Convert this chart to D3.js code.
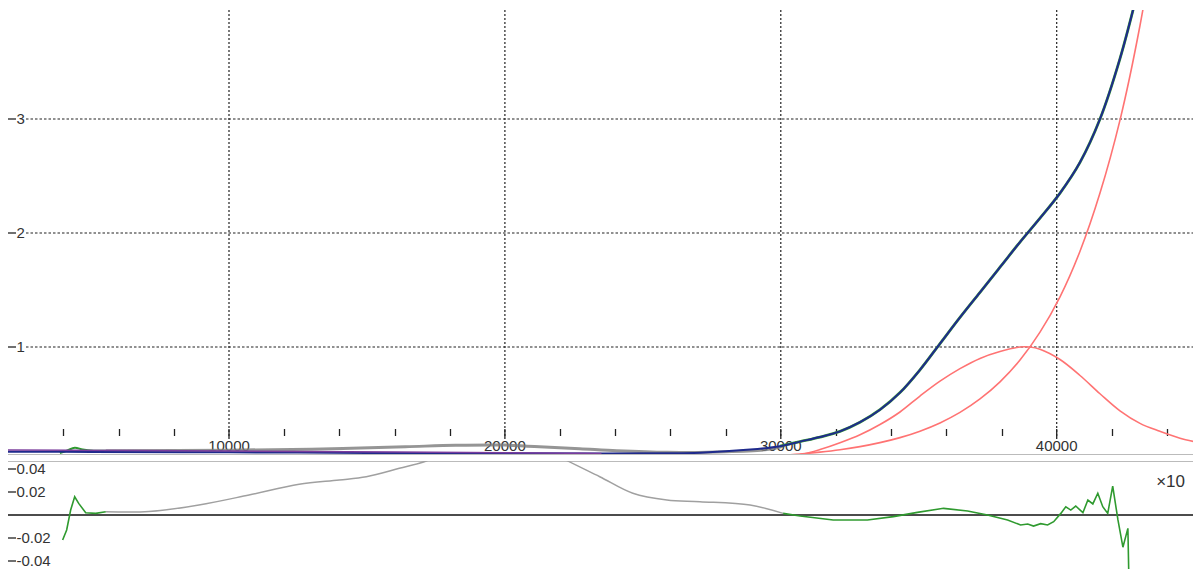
<!DOCTYPE html>
<html><head><meta charset="utf-8">
<script src="https://cdn.jsdelivr.net/npm/d3@7"></script>
<style>
body{margin:0;background:#fff}
svg{display:block}
text{font-family:"Liberation Sans",Arial,sans-serif;fill:#333}
</style>
</head><body>
<svg id="c" width="1193" height="569"></svg>
<script>
// ---------- data ----------
const xMajorTicks = [10000, 20000, 30000, 40000];
const xMinorTicks = [4000, 6000, 8000, 12000, 14000, 16000, 18000, 22000, 24000, 26000, 28000, 32000, 34000, 36000, 38000, 42000, 44000];
const yMainTicks = [1, 2, 3];
const yResTicks = [0.04, 0.02, -0.02, -0.04];
const resTickLabels = ["0.04", "0.02", "-0.02", "-0.04"];

// model sum (dark blue)
const modelSum = [[1990,0.082],[5000,0.08],[10000,0.076],[15000,0.071],[20000,0.067],[23440,0.066],[25870,0.067],[27070,0.072],[28890,0.1],
  [29971,0.13],[30696,0.17],[31421,0.21],[32146,0.26],[32871,0.34],[33595,0.45],[34320,0.60],[35045,0.80],[35770,1.03],[36495,1.26],
  [37220,1.48],[37945,1.70],[38670,1.92],[39395,2.13],[40120,2.35],[40845,2.62],[41569,3.0],[42294,3.53],[43019,4.2]];
// model outside active range (purple)
const modelOuter = [[1990,0.096],[10000,0.088],[16000,0.078],[20000,0.072],[22300,0.068],[23500,0.066]];
// components (red)
const peakComp = [[30080,0.04],[30805,0.06],[31421,0.10],[32146,0.16],[32871,0.23],[33595,0.32],[34320,0.43],[35045,0.57],[35770,0.70],
  [36495,0.81],[37220,0.90],[37945,0.96],[38670,1.0],[39032,1.0],[39395,0.98],[40120,0.89],[40845,0.75],[41569,0.59],[42294,0.44],
  [43019,0.33],[43744,0.26],[44469,0.2],[45194,0.16]];
const riseComp = [[29971,0.048],[30696,0.061],[31421,0.078],[32146,0.099],[32871,0.126],[33595,0.161],[34320,0.205],[35045,0.262],
  [35770,0.334],[36495,0.426],[37220,0.544],[37945,0.694],[38670,0.885],[39395,1.13],[40120,1.44],[40845,1.84],[41569,2.35],
  [42294,2.99],[43019,3.82],[43744,4.87]];
// data points
const dataActiveLeft = [[3870,0.07],[4120,0.09],[4410,0.117],[4700,0.1],[5100,0.09],[5530,0.09]];
const dataInactive = [[5530,0.09],[10000,0.095],[13370,0.105],[16390,0.125],[18220,0.138],[20000,0.14],[20810,0.13],[21620,0.12],[22710,0.108],[24060,0.09],[25870,0.076],[27690,0.08],[29500,0.1],[30080,0.13]];
// residuals
const resActiveLeft = [[3970,-0.0217],[4116,-0.013],[4261,0.0043],[4407,0.0159],[4552,0.0101],[4806,0.002],[5169,0.0014],[5533,0.0029]];
const resInactive = [[5533,0.0029],[7094,0.003],[8910,0.0087],[10726,0.0174],[12542,0.0267],[13995,0.0304],[14976,0.0333],[16174,0.0406],[17155,0.047],[18354,0.06],[19443,0.073],[20533,0.07],[21259,0.06],[22276,0.047],[23438,0.0333],[24637,0.0189],[25872,0.013],[27070,0.0116],[28886,0.0087],[30085,0.0014]];
const resActiveRight = [[30085,0.0014],[30700,-0.0009],[31900,-0.0043],[33140,-0.0043],[34080,-0.0014],[34950,0.0023],[35900,0.0058],[36770,0.0035],[37490,0],[38220,-0.0043],[38690,-0.0087],[38950,-0.0078],[39160,-0.0096],[39420,-0.0075],[39670,-0.0087],[39890,-0.0058],[40150,0.0014],[40330,0.0072],[40510,0.0043],[40690,0.0078],[40950,0.002],[41130,0.013],[41310,0.0096],[41490,0.0189],[41670,0.0072],[41850,0.0014],[42030,0.0252],[42220,-0.0043],[42400,-0.028],[42580,-0.0116],[42620,-0.06]];

// ---------- layout ----------
const W = 1193, H = 569;
const left = 8;
const mainTop = 10, mainBottom = 454;
const resTop = 461, resBottom = 569;

const x = d3.scaleLinear().domain([10000, 40000]).range([229, 1056.7]);
const y = d3.scaleLinear().domain([0, 3]).range([461, 119]);
const yr = d3.scaleLinear().domain([-0.04, 0.04]).range([561, 469]);

const svg = d3.select("#c");
const defs = svg.append("defs");
defs.append("clipPath").attr("id","clipMain").append("rect")
  .attr("x", left).attr("y", mainTop).attr("width", W-left).attr("height", mainBottom-mainTop);
defs.append("clipPath").attr("id","clipRes").append("rect")
  .attr("x", left).attr("y", resTop).attr("width", W-left).attr("height", resBottom-resTop);

// grid
const grid = svg.append("g");
grid.selectAll("line.v").data(xMajorTicks).join("line")
  .attr("x1", d=>x(d)).attr("x2", d=>x(d)).attr("y1", mainTop).attr("y2", 438)
  .attr("stroke","#222").attr("stroke-width",1.2).attr("stroke-dasharray","2,2");
grid.selectAll("line.h").data(yMainTicks).join("line")
  .attr("x1", 26).attr("x2", W).attr("y1", d=>y(d)).attr("y2", d=>y(d))
  .attr("stroke","#222").attr("stroke-width",1.2).attr("stroke-dasharray","2.5,2");

// separators
svg.append("line").attr("x1",left).attr("x2",W).attr("y1",454.5).attr("y2",454.5).attr("stroke","#bbb").attr("stroke-width",1);
svg.append("line").attr("x1",left).attr("x2",W).attr("y1",461.5).attr("y2",461.5).attr("stroke","#bbb").attr("stroke-width",1);

// x ticks
const xt = svg.append("g");
xt.selectAll("line.mi").data(xMinorTicks).join("line")
  .attr("x1", d=>Math.round(x(d))+0.5).attr("x2", d=>Math.round(x(d))+0.5).attr("y1",429).attr("y2",436)
  .attr("stroke","#222").attr("stroke-width",1.3);
xt.selectAll("line.ma").data(xMajorTicks).join("line")
  .attr("x1", d=>x(d)).attr("x2", d=>x(d)).attr("y1",429).attr("y2",439)
  .attr("stroke","#222").attr("stroke-width",1.3);

// y ticks main
const yt = svg.append("g");
yt.selectAll("line").data(yMainTicks).join("line")
  .attr("x1",8).attr("x2",16).attr("y1",d=>y(d)).attr("y2",d=>y(d)).attr("stroke","#333").attr("stroke-width",1.4);
yt.selectAll("text").data(yMainTicks).join("text")
  .attr("x",16.5).attr("y",d=>y(d)).attr("dy","0.36em").attr("font-size",15).text(d=>d);

// y ticks residual
const rt = svg.append("g");
rt.selectAll("line").data(yResTicks).join("line")
  .attr("x1",8).attr("x2",16).attr("y1",d=>yr(d)).attr("y2",d=>yr(d)).attr("stroke","#333").attr("stroke-width",1.4);
rt.selectAll("text").data(yResTicks).join("text")
  .attr("x",16.5).attr("y",d=>yr(d)).attr("dy","0.36em").attr("font-size",15).text((d,i)=>resTickLabels[i]);

// residual zero line
svg.append("line").attr("x1",left).attr("x2",W).attr("y1",yr(0)).attr("y2",yr(0)).attr("stroke","#111").attr("stroke-width",1.6);

// lines
const lineMain = d3.line().x(d=>x(d[0])).y(d=>y(d[1])).curve(d3.curveCatmullRom);
const lineRes = d3.line().x(d=>x(d[0])).y(d=>yr(d[1])).curve(d3.curveCatmullRom);
const lineResLin = d3.line().x(d=>x(d[0])).y(d=>yr(d[1]));

const gm = svg.append("g").attr("clip-path","url(#clipMain)");
gm.append("path").attr("d", lineMain(dataInactive)).attr("fill","none").attr("stroke","#7a7a7a").attr("stroke-opacity",0.8).attr("stroke-width",3);
gm.append("path").attr("d", lineMain(peakComp)).attr("fill","none").attr("stroke","#ff7373").attr("stroke-width",1.6);
gm.append("path").attr("d", lineMain(riseComp)).attr("fill","none").attr("stroke","#ff7373").attr("stroke-width",1.6);
gm.append("path").attr("d", lineMain(dataActiveLeft)).attr("fill","none").attr("stroke","#2f9a2f").attr("stroke-width",2);
gm.append("path").attr("d", lineMain(modelSum.filter(d=>d[0]>=29900))).attr("fill","none").attr("stroke","#3a9a3a").attr("stroke-width",2.8);
gm.append("path").attr("d", lineMain(modelSum)).attr("fill","none").attr("stroke","#1f2a8c").attr("stroke-width",2);
gm.append("path").attr("d", lineMain(modelOuter)).attr("fill","none").attr("stroke","#7a3c9c").attr("stroke-width",1.5);

// x tick labels (drawn over lines)
xt.selectAll("text").data(xMajorTicks).join("text")
  .attr("x", d=>x(d)).attr("y",451).attr("text-anchor","middle").attr("font-size",15).text(d=>d);

const gr = svg.append("g").attr("clip-path","url(#clipRes)");
gr.append("path").attr("d", lineRes(resInactive)).attr("fill","none").attr("stroke","#a0a0a0").attr("stroke-width",1.5);
gr.append("path").attr("d", lineResLin(resActiveLeft)).attr("fill","none").attr("stroke","#2f9a2f").attr("stroke-width",1.6);
gr.append("path").attr("d", lineResLin(resActiveRight)).attr("fill","none").attr("stroke","#2f9a2f").attr("stroke-width",1.6);

svg.append("text").attr("x",1185).attr("y",487).attr("text-anchor","end").attr("font-size",17).text("×10");
</script>
</body></html>
